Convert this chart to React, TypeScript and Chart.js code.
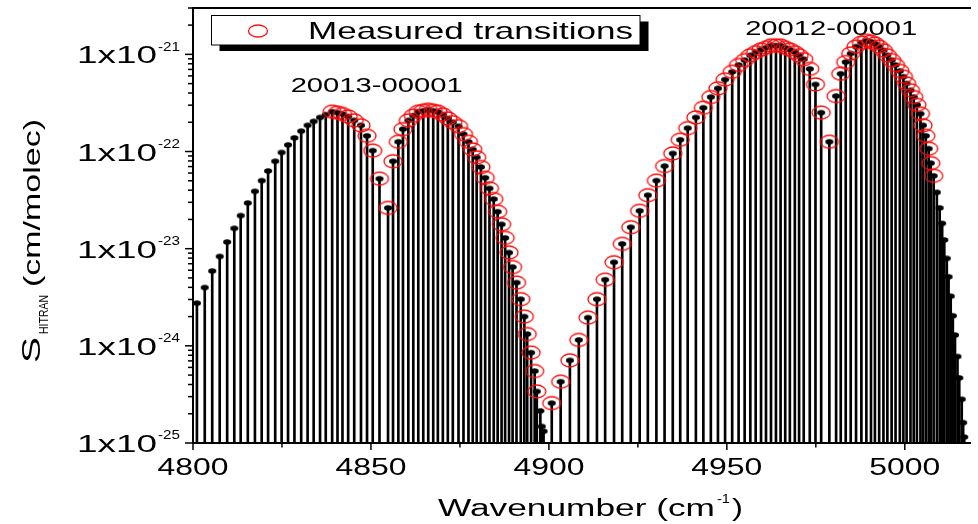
import React, { useEffect, useRef } from 'react';
import { Chart, registerables } from 'chart.js';

Chart.register(...registerables);

// ---------- DATA ----------
// 20013-00001 band, P-branch lines without a measurement
const band1PWavenumber = [
  4801.1, 4803.3, 4805.4, 4807.5, 4809.6, 4811.6, 4813.4, 4815.4, 4817.4, 4819.3,
  4821.1, 4823.1, 4824.9, 4826.7, 4828.5, 4830.4, 4832.2, 4833.9, 4835.7, 4837.3,
];
const band1PIntensity = [
  2.75e-24, 3.98e-24, 5.89e-24, 8.32e-24, 1.17e-23, 1.62e-23, 2.19e-23, 2.95e-23, 3.89e-23, 5.01e-23,
  6.31e-23, 7.94e-23, 9.77e-23, 1.17e-22, 1.38e-22, 1.62e-22, 1.86e-22, 2.04e-22, 2.24e-22, 2.4e-22,
];
// 20013-00001 band, measured lines
const band1MeasuredWavenumber = [
  4839.1, 4840.6, 4842.0, 4843.6, 4845.3, 4847.2, 4848.9, 4850.5, 4852.4, 4854.8,
  4856.2, 4857.7, 4859.0, 4860.5, 4861.9, 4863.3, 4864.7, 4866.1, 4867.5, 4868.8,
  4870.2, 4871.6, 4873.0, 4874.6, 4876.0, 4877.4, 4878.6, 4879.7, 4880.9, 4882.1,
  4883.3, 4884.5, 4885.6, 4886.7, 4887.7, 4888.8, 4889.8, 4890.9, 4892.1, 4893.1,
  4893.9, 4895.0, 4896.0, 4896.6,
];
const band1MeasuredIntensity = [
  2.57e-22, 2.51e-22, 2.43e-22, 2.29e-22, 2.09e-22, 1.86e-22, 1.45e-22, 1.02e-22, 5.25e-23, 2.63e-23,
  7.94e-23, 1.26e-22, 1.7e-22, 2.09e-22, 2.34e-22, 2.57e-22, 2.63e-22, 2.69e-22, 2.63e-22, 2.57e-22,
  2.4e-22, 2.19e-22, 2.0e-22, 1.82e-22, 1.51e-22, 1.26e-22, 1.05e-22, 8.71e-23, 6.92e-23, 5.37e-23,
  4.17e-23, 3.24e-23, 2.4e-23, 1.78e-23, 1.29e-23, 9.12e-24, 6.46e-24, 4.47e-24, 3.02e-24, 2.0e-24,
  1.32e-24, 8.51e-25, 5.5e-25, 3.39e-25,
];
// 20013-00001 band head, no measurement
const band1HeadWavenumber = [4897.6, 4898.0, 4898.5];
const band1HeadIntensity = [2.14e-25, 1.48e-25, 1.32e-25];

// 20012-00001 band, measured lines
const band2MeasuredWavenumber = [
  4900.8, 4903.3, 4905.9, 4908.4, 4911.0, 4913.5, 4915.8, 4918.3, 4920.6, 4923.0,
  4925.5, 4927.8, 4930.2, 4932.5, 4934.8, 4936.9, 4939.0, 4941.3, 4943.4, 4945.5,
  4947.5, 4949.5, 4951.5, 4953.3, 4955.0, 4956.6, 4958.1, 4959.6, 4961.0, 4962.4,
  4963.8, 4965.1, 4966.4, 4967.7, 4969.1, 4970.3, 4971.6, 4973.3, 4974.9, 4976.5,
  4978.8, 4980.7, 4982.0, 4983.4, 4984.8, 4986.3, 4987.8, 4989.2, 4990.5, 4991.6,
  4992.8, 4994.0, 4995.1, 4996.3, 4997.4, 4998.6, 4999.6, 5000.5, 5001.6, 5002.5,
  5003.4, 5004.4, 5005.1, 5005.9, 5006.7, 5007.3, 5008.1,
];
const band2MeasuredIntensity = [
  2.57e-25, 4.27e-25, 7.08e-25, 1.15e-24, 1.95e-24, 3.02e-24, 4.79e-24, 7.24e-24, 1.12e-23, 1.66e-23,
  2.45e-23, 3.55e-23, 5.01e-23, 7.08e-23, 9.55e-23, 1.32e-22, 1.74e-22, 2.24e-22, 2.82e-22, 3.63e-22,
  4.47e-22, 5.5e-22, 6.61e-22, 7.76e-22, 8.71e-22, 9.77e-22, 1.05e-21, 1.12e-21, 1.17e-21, 1.23e-21,
  1.23e-21, 1.23e-21, 1.17e-21, 1.12e-21, 1.05e-21, 9.77e-22, 8.91e-22, 7.08e-22, 4.9e-22, 2.51e-22,
  1.26e-22, 3.72e-22, 6.31e-22, 8.32e-22, 1.02e-21, 1.2e-21, 1.32e-21, 1.38e-21, 1.35e-21, 1.29e-21,
  1.2e-21, 1.1e-21, 9.77e-22, 8.71e-22, 7.76e-22, 6.76e-22, 5.89e-22, 5.01e-22, 4.27e-22, 3.63e-22,
  3.02e-22, 2.45e-22, 1.86e-22, 1.45e-22, 1.07e-22, 7.59e-23, 5.62e-23,
];
// 20012-00001 band head, no measurement
const band2HeadWavenumber = [
  5009.0, 5009.8, 5010.5, 5011.1, 5011.8, 5012.3, 5012.9, 5013.5, 5014.1, 5014.8,
  5015.3, 5016.0, 5016.4, 5016.7,
];
const band2HeadIntensity = [
  3.8e-23, 2.63e-23, 1.82e-23, 1.23e-23, 7.94e-24, 5.13e-24, 3.24e-24, 2.04e-24, 1.29e-24, 7.76e-25,
  4.68e-25, 2.82e-25, 1.62e-25, 1.15e-25,
];

const xMajorTicks = [4800, 4850, 4900, 4950, 5000];
const xMinorTicks = [4825, 4875, 4925, 4975];
const yDecadeExponents = [-25, -24, -23, -22, -21];
const yMinorMultipliers = [2, 3, 4, 5, 6, 7, 8, 9];

const bandLabels = ['20013-00001', '20012-00001'];
const bandLabelWavenumber = [4851.6, 4979.3];
const bandLabelIntensity = [4.12e-22, 1.58e-21];
const legendLabel = 'Measured transitions';

const X_MIN = 4800;
const X_MAX = 5018.6;
const Y_MIN = 1e-25;
const Y_MAX = 3e-21;

const FONT = '"Liberation Sans", Arial, sans-serif';

function toPoints(xs: number[], ys: number[]) {
  return xs.map((x, i) => ({ x, y: ys[i] }));
}

function makeEllipse(rx: number, ry: number, fill: boolean, color: string, lw: number) {
  const c = document.createElement('canvas');
  c.width = Math.ceil(2 * rx + lw + 2);
  c.height = Math.ceil(2 * ry + lw + 2);
  const g = c.getContext('2d')!;
  g.beginPath();
  g.ellipse(c.width / 2, c.height / 2, rx, ry, 0, 0, Math.PI * 2);
  if (fill) {
    g.fillStyle = color;
    g.fill();
  } else {
    g.strokeStyle = color;
    g.lineWidth = lw;
    g.stroke();
  }
  return c;
}

function stretchText(
  ctx: CanvasRenderingContext2D,
  text: string,
  x: number,
  y: number,
  size: number,
  width: number,
  align: 'left' | 'right' | 'center'
) {
  ctx.font = `${size}px ${FONT}`;
  const w = ctx.measureText(text).width;
  const sx = width / w;
  const x0 = align === 'left' ? x : align === 'right' ? x - width : x - width / 2;
  ctx.save();
  ctx.translate(x0, y);
  ctx.scale(sx, 1);
  ctx.textAlign = 'left';
  ctx.textBaseline = 'alphabetic';
  ctx.fillText(text, 0, 0);
  ctx.restore();
}

const decorPlugin = {
  id: 'decor',
  afterDraw(chart: any) {
    const ctx: CanvasRenderingContext2D = chart.ctx;
    const { left, right, top, bottom } = chart.chartArea;
    const xs = chart.scales.x;
    const ys = chart.scales.y;
    ctx.save();
    ctx.strokeStyle = '#000';
    ctx.fillStyle = '#000';

    // frame
    ctx.lineWidth = 2;
    ctx.beginPath();
    ctx.moveTo(right, top);
    ctx.lineTo(left, top);
    ctx.lineTo(left, bottom);
    ctx.lineTo(right, bottom);
    ctx.stroke();

    // y ticks + labels
    ctx.lineWidth = 1.5;
    yDecadeExponents.forEach((e) => {
      const v = Math.pow(10, e);
      const py = ys.getPixelForValue(v);
      ctx.beginPath();
      ctx.moveTo(left - 8, py);
      ctx.lineTo(left, py);
      ctx.stroke();
      stretchText(ctx, '1x10', left - 36, py + 9, 23, 80, 'right');
      stretchText(ctx, String(e), left - 35, py - 3.6, 12.5, 22, 'left');
      yMinorMultipliers.forEach((m) => {
        const mv = m * v;
        if (mv >= Y_MAX) return;
        const my = ys.getPixelForValue(mv);
        ctx.beginPath();
        ctx.moveTo(left - 5, my);
        ctx.lineTo(left, my);
        ctx.stroke();
      });
    });

    // x ticks + labels
    xMajorTicks.forEach((t) => {
      const px = xs.getPixelForValue(t);
      ctx.beginPath();
      ctx.moveTo(px, bottom);
      ctx.lineTo(px, bottom + 7);
      ctx.stroke();
      stretchText(ctx, String(t), px, bottom + 32, 24, 71, 'center');
    });
    xMinorTicks.forEach((t) => {
      const px = xs.getPixelForValue(t);
      ctx.beginPath();
      ctx.moveTo(px, bottom);
      ctx.lineTo(px, bottom + 4.5);
      ctx.stroke();
    });

    // x title
    stretchText(ctx, 'Wavenumber (cm', 438, 516, 23, 277, 'left');
    stretchText(ctx, '-1', 717, 503, 13, 13, 'left');
    stretchText(ctx, ')', 732, 516, 23, 11, 'left');

    // y title (rotated)
    ctx.save();
    ctx.translate(40, 363);
    ctx.rotate(-Math.PI / 2);
    stretchText(ctx, 'S', 0, 0, 25, 26, 'left');
    stretchText(ctx, 'HITRAN', 29, 8, 12, 39, 'left');
    stretchText(ctx, '(cm/molec)', 76, 0, 24, 168, 'left');
    ctx.restore();

    // band labels
    bandLabels.forEach((lab, i) => {
      const px = xs.getPixelForValue(bandLabelWavenumber[i]);
      const py = ys.getPixelForValue(bandLabelIntensity[i]);
      stretchText(ctx, lab, px, py, 20, 172, 'center');
    });

    // legend box with shadow
    ctx.fillStyle = '#000';
    ctx.fillRect(219.5, 21.5, 429, 29.5);
    ctx.fillStyle = '#fff';
    ctx.fillRect(211.5, 15, 428.5, 30);
    ctx.lineWidth = 1;
    ctx.strokeStyle = '#000';
    ctx.strokeRect(211.5, 15.5, 428.5, 29.5);
    ctx.beginPath();
    ctx.ellipse(258, 31, 9.5, 6, 0, 0, Math.PI * 2);
    ctx.strokeStyle = '#ff1010';
    ctx.lineWidth = 1.3;
    ctx.stroke();
    ctx.fillStyle = '#000';
    stretchText(ctx, legendLabel, 308, 39, 24, 325, 'left');

    ctx.restore();
  },
};

export default function App() {
  const ref = useRef<HTMLCanvasElement>(null);

  useEffect(() => {
    const canvas = ref.current!;
    const dot = makeEllipse(4, 2.7, true, '#000', 0);
    const ring = makeEllipse(9, 6.5, false, '#ff0a0a', 1.3);

    const allLines = [
      ...toPoints(band1PWavenumber, band1PIntensity),
      ...toPoints(band1MeasuredWavenumber, band1MeasuredIntensity),
      ...toPoints(band1HeadWavenumber, band1HeadIntensity),
      ...toPoints(band2MeasuredWavenumber, band2MeasuredIntensity),
      ...toPoints(band2HeadWavenumber, band2HeadIntensity),
    ];
    const measured = [
      ...toPoints(band1MeasuredWavenumber, band1MeasuredIntensity),
      ...toPoints(band2MeasuredWavenumber, band2MeasuredIntensity),
    ];

    const chart = new Chart(canvas, {
      type: 'scatter',
      data: {
        datasets: [
          {
            type: 'bar',
            label: 'HITRAN sticks',
            data: allLines,
            backgroundColor: '#000',
            borderWidth: 0,
            barThickness: 2,
            base: Y_MIN,
            order: 3,
          } as any,
          {
            type: 'scatter',
            label: 'HITRAN',
            data: allLines,
            pointStyle: dot as any,
            pointRadius: 3,
            order: 2,
          },
          {
            type: 'scatter',
            label: legendLabel,
            data: measured,
            pointStyle: ring as any,
            pointRadius: 6,
            order: 1,
          },
        ],
      },
      options: {
        animation: false,
        responsive: false,
        events: [],
        layout: { padding: { top: 8, left: 0, right: 0, bottom: 0 } },
        plugins: { legend: { display: false }, tooltip: { enabled: false } },
        scales: {
          x: {
            type: 'linear',
            min: X_MIN,
            max: X_MAX,
            offset: false,
            grid: { display: false, offset: false },
            border: { display: false },
            ticks: { display: false },
            afterFit: (s: any) => {
              s.height = 81;
            },
          },
          y: {
            type: 'logarithmic',
            min: Y_MIN,
            max: Y_MAX,
            grid: { display: false },
            border: { display: false },
            ticks: { display: false },
            afterFit: (s: any) => {
              s.width = 193;
            },
          },
        },
      } as any,
      plugins: [decorPlugin],
    });
    return () => chart.destroy();
  }, []);

  return (
    <div style={{ position: 'fixed', left: 0, top: 0, width: 978, height: 524, background: '#fff' }}>
      <canvas ref={ref} width={978} height={524} style={{ display: 'block' }} />
    </div>
  );
}
